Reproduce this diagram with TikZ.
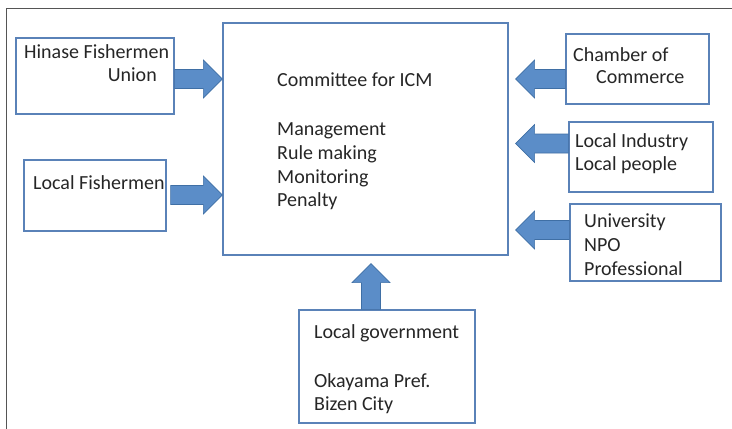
\documentclass[tikz,border=0pt]{standalone}
\usepackage{fontspec}
\setmainfont{Carlito}
\usetikzlibrary{calc}
\definecolor{boxblue}{HTML}{5A82B8}
\definecolor{arrfill}{HTML}{5B8DC8}
\definecolor{arrdraw}{HTML}{3F6FA5}
\definecolor{txt}{HTML}{262626}
\definecolor{frame}{HTML}{555555}
\tikzset{
  x=1pt,y=-1pt,
  boxnode/.style={draw=boxblue,line width=1.3pt,fill=white,inner sep=0pt},
  lbl/.style={text=txt,font=\fontsize{20}{24}\selectfont,inner sep=0pt,anchor=base west},
  blockarrow/.style={fill=arrfill,draw=arrdraw,line width=0.6pt,line join=miter}
}
\newcommand{\blockarr}[2]{%
  \path let \p1=(#1) in coordinate (bA) at (\p1);
  \path let \p1=(#2) in coordinate (bB) at (\p1);
  \coordinate (bH) at ($(bB)!19pt!(bA)$);
  \draw[blockarrow] ($(bA)!9.5pt!90:(bB)$) -- ($(bH)!9.5pt!-90:(bA)$) -- ($(bH)!19pt!-90:(bA)$) -- (bB)
     -- ($(bH)!19pt!90:(bA)$) -- ($(bH)!9.5pt!90:(bA)$) -- ($(bA)!9.5pt!-90:(bB)$) -- cycle;
}
\begin{document}
\begin{tikzpicture}
\useasboundingbox (0,0) rectangle (732,429);
\draw[frame,line width=0.8pt] (6,429) -- (6,8) -- (732,8);

% boxes
\node[boxnode,minimum width=285,minimum height=232] (cen) at (365.5,139) {};
\node[boxnode,minimum width=158,minimum height=76] (hin) at (95,76) {};
\node[boxnode,minimum width=142,minimum height=71] (lf) at (95,195.5) {};
\node[boxnode,minimum width=143,minimum height=70] (cc) at (637.5,69) {};
\node[boxnode,minimum width=144,minimum height=70] (li) at (641,157) {};
\node[boxnode,minimum width=151,minimum height=77] (uni) at (645.5,242.5) {};
\node[boxnode,minimum width=176,minimum height=113] (lg) at (387,366.5) {};

% texts
\node[lbl] (t1) at (277,86.5) {Committee for ICM};
\node[lbl] (t2) at (277,135.5) {Management};
\node[lbl] (t3) at (277,159) {Rule making};
\node[lbl] (t4) at (277,183) {Monitoring};
\node[lbl] (t5) at (277,206.5) {Penalty};

\node[lbl] (h1) at (24,58.5) {Hinase Fishermen};
\node[lbl,anchor=base east] (h2) at (157,81.5) {Union};
\node[lbl] (f1) at (33,189.5) {Local Fishermen};

\node[lbl] (c1) at (573,61.5) {Chamber of};
\node[lbl] (c2) at (596,83.5) {Commerce};
\node[lbl] (l1) at (575,147.5) {Local Industry};
\node[lbl] (l2) at (575,170.5) {Local people};
\node[lbl] (u1) at (584,227.5) {University};
\node[lbl] (u2) at (584,251.5) {NPO};
\node[lbl] (u3) at (584,275) {Professional};

\node[lbl] (g1) at (314,338.5) {Local government};
\node[lbl] (g2) at (314,387.5) {Okayama Pref.};
\node[lbl] (g3) at (314,410.5) {Bizen City};

% arrows
\blockarr{hin.east |- 0,79}{cen.west |- 0,79}
\blockarr{$(lf.east |- 0,195)+(4,0)$}{cen.west |- 0,195}
\blockarr{cc.west |- 0,79}{$(cen.east |- 0,79)+(7,0)$}
\blockarr{li.west |- 0,143.5}{$(cen.east |- 0,143.5)+(7,0)$}
\blockarr{uni.west |- 0,230}{$(cen.east |- 0,230)+(7,0)$}
\blockarr{lg.north -| 371,0}{$(cen.south -| 371,0)+(0,8)$}
\end{tikzpicture}
\end{document}
